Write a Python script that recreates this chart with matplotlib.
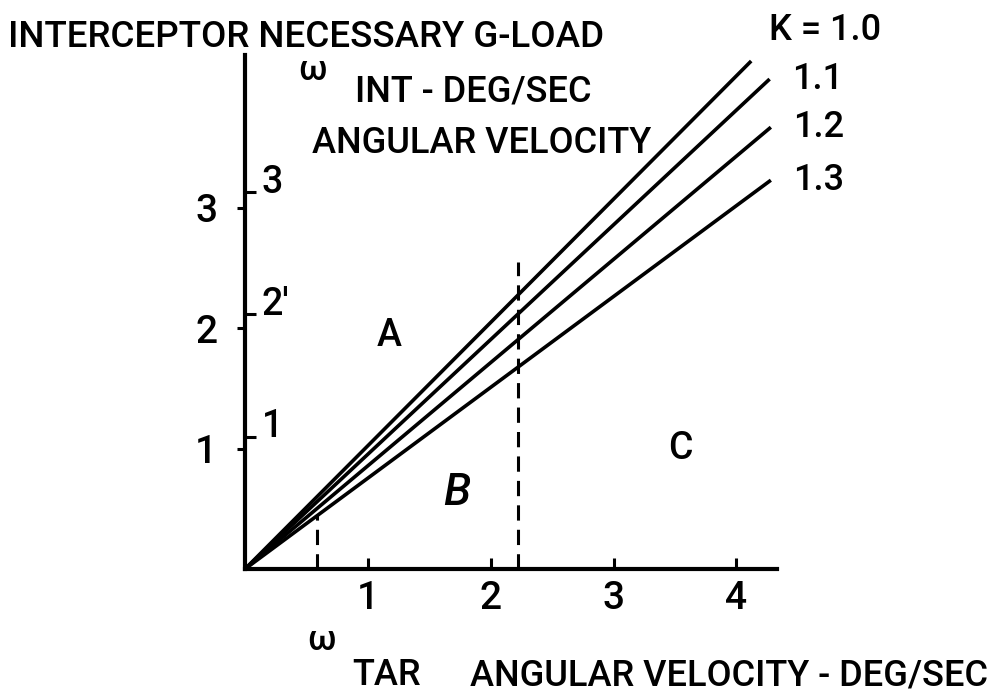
import matplotlib
matplotlib.use("Agg")
import matplotlib.pyplot as plt

plt.rcParams["font.family"] = ["Roboto", "DejaVu Sans"]
plt.rcParams["font.weight"] = "medium"

# ── data ──────────────────────────────────────────────────────────────────────
K_VALUES   = [1.0, 1.1, 1.2, 1.3]
K_LABELS   = ["K = 1.0", "1.1", "1.2", "1.3"]
LINE_END_X = [4.12, 4.27, 4.28, 4.28]     # omega_TAR at end of each line
LINE_END_Y = [4.22, 4.07, 3.67, 3.23]     # omega_INT at end of each line

DASH_X     = [0.59, 2.22]                 # boundaries between regions
DASH_TOP   = [0.45, 2.55]

X_TICKS    = [1, 2, 3, 4]
Y_TICKS    = [1, 2, 3]                    # g-load scale (left)
W_TICKS    = [1.10, 2.12, 3.13]           # angular velocity scale (right)
W_LABELS   = ["1", "2\u2032", "3"]

REGIONS    = ["A", "B", "C"]
REGION_X   = [1.17, 1.72, 3.54]
REGION_Y   = [1.94, 0.63, 1.00]

W, H = 994, 700
fig = plt.figure(figsize=(W / 100, H / 100), dpi=100)
ax = fig.add_axes([245 / W, 131 / H, 532 / W, 514 / H])

def fx(px):
    return px / W

def fy(py):
    return 1 - py / H

# ── lines ────────────────────────────────────────────────────────────────────
for k, lab, xe, ye in zip(K_VALUES, K_LABELS, LINE_END_X, LINE_END_Y):
    ax.plot([0, xe], [0, ye], color="black", lw=2.6, solid_capstyle="butt",
            clip_on=False, zorder=3)
    off = (13, 22) if k == 1.0 else (16, 0)
    ax.annotate(lab, (xe, ye), xytext=off, textcoords="offset points",
                ha="left", va="center", fontsize=26)

for x, top in zip(DASH_X, DASH_TOP):
    ax.plot([x, x], [0, top], color="black", lw=2.2, dashes=(5, 3), zorder=2)

for lab, x, y in zip(REGIONS, REGION_X, REGION_Y):
    style = "italic" if lab == "B" else "normal"
    size = 32 if lab == "B" else 27
    ax.text(x, y, lab, ha="center", va="center", fontsize=size, fontstyle=style)

# ── axes styling ─────────────────────────────────────────────────────────────
ax.set_xlim(0, 4.33)
ax.set_ylim(0, 4.27)
for s in ["top", "right"]:
    ax.spines[s].set_visible(False)
for s in ["left", "bottom"]:
    ax.spines[s].set_linewidth(3)
    ax.spines[s].set_capstyle("projecting")

ax.set_xticks(X_TICKS)
ax.set_xticklabels([str(v) for v in X_TICKS])
ax.set_yticks(Y_TICKS)
ax.set_yticklabels([str(v) for v in Y_TICKS])
ax.tick_params(axis="x", direction="in", length=8, width=2.2, pad=8, labelsize=28)
ax.tick_params(axis="y", direction="out", length=6, width=2.2, pad=14, labelsize=28)

# second scale: ticks on the inner side of the y axis
ax.plot([0] * len(W_TICKS), W_TICKS, ls="none", marker=1, ms=8, mew=2.2,
        color="black", clip_on=False, zorder=4)
for lab, y in zip(W_LABELS, W_TICKS):
    ax.annotate(lab, (0, y), xytext=(12, 7), textcoords="offset points",
                ha="left", va="center", fontsize=27, annotation_clip=False)

# ── titles / axis labels ─────────────────────────────────────────────────────
fig.text(fx(8), fy(47), "INTERCEPTOR NECESSARY G-LOAD", ha="left", va="baseline",
         fontsize=26.5)
fig.text(fx(313), fy(70), "\u03c9", ha="center", va="center", fontsize=25)
fig.text(fx(355), fy(102), "INT - DEG/SEC", ha="left", va="baseline", fontsize=26)
fig.text(fx(312), fy(153), "ANGULAR VELOCITY", ha="left", va="baseline", fontsize=26)

fig.text(fx(322), fy(640), "\u03c9", ha="center", va="center", fontsize=25)
fig.text(fx(352), fy(685), "TAR", ha="left", va="baseline", fontsize=26)
fig.text(fx(470), fy(685), "ANGULAR VELOCITY - DEG/SEC", ha="left", va="baseline",
         fontsize=26)

fig.savefig("out.png", dpi=100, facecolor="white")
